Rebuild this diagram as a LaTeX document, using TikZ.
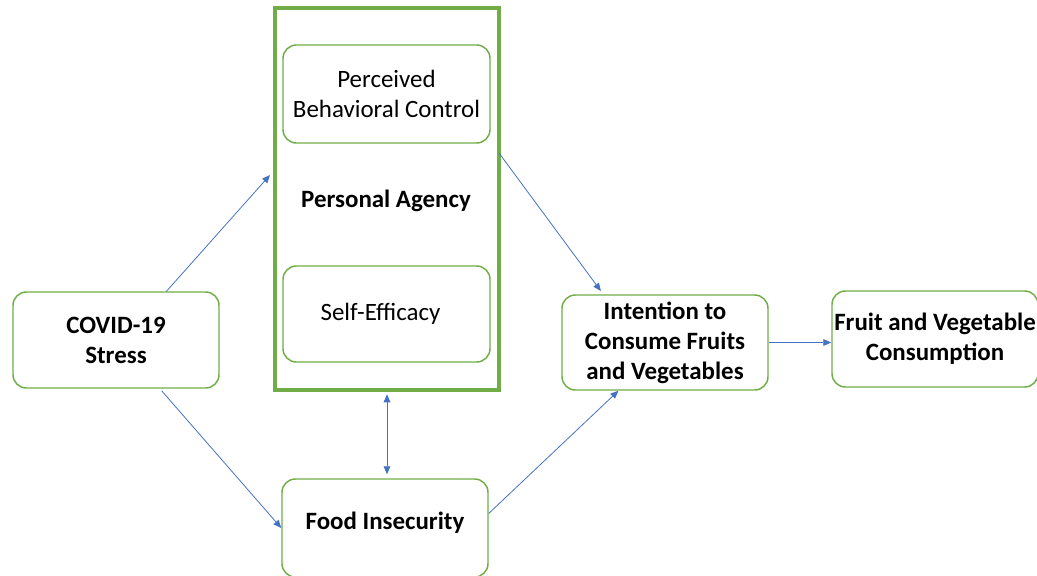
\documentclass[tikz,border=0pt]{standalone}
\usepackage{fontspec}
\setmainfont{Carlito}
\usetikzlibrary{arrows.meta}
\definecolor{boxgreen}{HTML}{70AD47}
\definecolor{linkblue}{HTML}{4472C4}
\tikzset{
  card/.style={draw=boxgreen, line width=1.1pt, rounded corners=10pt, fill=white,
    align=center, inner sep=0pt, font=\fontsize{18.7}{22.5}\selectfont},
  strong/.style={font=\fontsize{18.7}{22.5}\selectfont\bfseries},
  frame/.style={draw=boxgreen, line width=2.4pt, inner sep=0pt},
  link/.style={draw=linkblue, line width=0.6pt, -{Triangle[length=6pt,width=5pt]}},
  twoway/.style={draw=linkblue, line width=0.6pt, {Triangle[length=6pt,width=5pt]}-{Triangle[length=6pt,width=5pt]}}
}
\begin{document}
\begin{tikzpicture}[x=0.75pt,y=-0.75pt]
  \useasboundingbox (0,0) rectangle (1037,575);

  % outer frame of the agency construct
  \node[frame, minimum width=224*0.75pt, minimum height=382*0.75pt] (agency) at (387,199) {};
  \node[strong] (agencylabel) at (386,201) {Personal Agency};

  % inner constructs
  \node[card, minimum width=207*0.75pt, minimum height=98*0.75pt] (pbc) at (386.5,94) {Perceived\\Behavioral Control};
  \node[card, minimum width=207*0.75pt, minimum height=96*0.75pt] (se) at (386.5,314) {Self-Efficacy\hspace*{9pt}};

  % remaining constructs
  \node[card, strong, minimum width=206*0.75pt, minimum height=96*0.75pt] (covid) at (116,340) {COVID-19\\Stress};
  \node[card, strong, minimum width=206*0.75pt, minimum height=98*0.75pt, text depth=11pt] (food) at (385,528) {Food Insecurity};
  \node[card, strong, minimum width=206*0.75pt, minimum height=95*0.75pt] (intent) at (665,342.5) {Intention to\\Consume Fruits\\and Vegetables};
  \node[card, strong, minimum width=206*0.75pt, minimum height=96*0.75pt] (fvc) at (935,339) {Fruit and Vegetable\\Consumption};

  % free ends of the paths
  \coordinate (toagency) at (270,175);
  \coordinate (fromagency) at (499,153);

  % paths
  \draw[link] (covid.44) -- (toagency);
  \draw[link, shorten <=2pt] (covid.-48) -- (food.west);
  \draw[link, shorten >=3pt] (fromagency) -- (intent.142);
  \draw[twoway, shorten <=2pt, shorten >=3pt] (agency.south) -- (agency.south |- food.north);
  \draw[link] (food.8) -- (intent.-134);
  \draw[link] (intent.east) -- (intent.east -| fvc.west);
\end{tikzpicture}
\end{document}
